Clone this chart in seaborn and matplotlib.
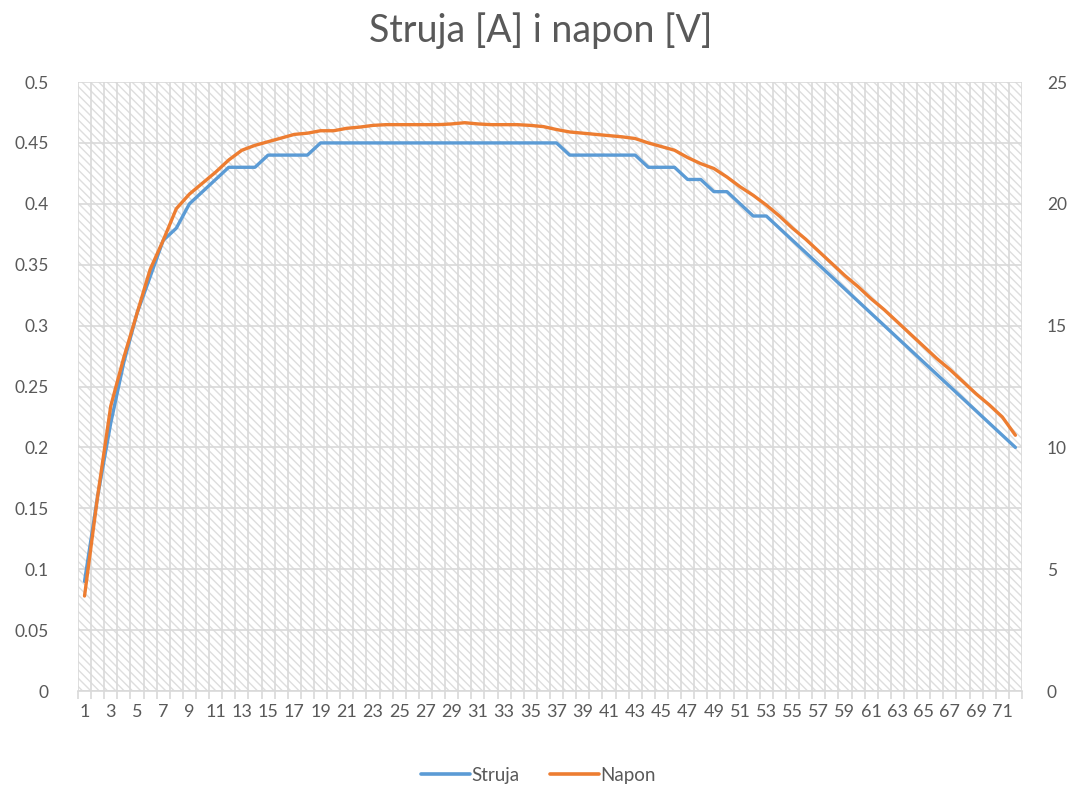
import numpy as np
import pandas as pd
import matplotlib
matplotlib.use("Agg")
import matplotlib.pyplot as plt
from matplotlib.patches import Rectangle
from matplotlib.lines import Line2D
import seaborn as sns

# measurement index (category axis)
mjerenje = list(range(1, 73))

# current [A] - left axis
struja = [0.09, 0.16, 0.22, 0.27, 0.31, 0.34, 0.37, 0.38, 0.40, 0.41,
          0.42, 0.43, 0.43, 0.43, 0.44, 0.44, 0.44, 0.44, 0.45, 0.45,
          0.45, 0.45, 0.45, 0.45, 0.45, 0.45, 0.45, 0.45, 0.45, 0.45,
          0.45, 0.45, 0.45, 0.45, 0.45, 0.45, 0.45, 0.44, 0.44, 0.44,
          0.44, 0.44, 0.44, 0.43, 0.43, 0.43, 0.42, 0.42, 0.41, 0.41,
          0.40, 0.39, 0.39, 0.38, 0.37, 0.36, 0.35, 0.34, 0.33, 0.32,
          0.31, 0.30, 0.29, 0.28, 0.27, 0.26, 0.25, 0.24, 0.23, 0.22,
          0.21, 0.20]

# voltage [V] - right axis
napon = [3.9, 8.0, 11.7, 13.7, 15.5, 17.3, 18.5, 19.8, 20.4, 20.85,
         21.3, 21.8, 22.2, 22.4, 22.55, 22.7, 22.85, 22.9, 23.0, 23.0,
         23.1, 23.15, 23.22, 23.25, 23.25, 23.25, 23.25, 23.25, 23.28, 23.33,
         23.28, 23.25, 23.25, 23.25, 23.22, 23.17, 23.05, 22.95, 22.9, 22.85,
         22.8, 22.75, 22.68, 22.5, 22.35, 22.2, 21.9, 21.65, 21.45, 21.1,
         20.7, 20.35, 19.95, 19.5, 19.0, 18.55, 18.05, 17.55, 17.05, 16.6,
         16.1, 15.65, 15.15, 14.65, 14.15, 13.65, 13.2, 12.7, 12.2, 11.75,
         11.25, 10.5]

df = pd.DataFrame({"Mjerenje": mjerenje, "Struja": struja, "Napon": napon})

sns.set_theme(style="white")
plt.rcParams["font.family"] = ["Lato", "DejaVu Sans"]
plt.rcParams["hatch.linewidth"] = 1.0

text_col = "#595959"
grid_col = "#d9d9d9"
blue = "#5b9bd5"
orange = "#ed7d31"

fig = plt.figure(figsize=(10.77, 7.91), dpi=100)
ax = fig.add_axes([0.0724, 0.1264, 0.8765, 0.7699])

# hatched plot area background
ax.add_patch(Rectangle((0, 0), 1, 1, transform=ax.transAxes, facecolor="white",
                       edgecolor="#dedede", hatch="\\\\\\\\", linewidth=0, zorder=0))

sns.lineplot(data=df, x="Mjerenje", y="Struja", ax=ax, color=blue, linewidth=2.4, zorder=3)
ax2 = ax.twinx()
sns.lineplot(data=df, x="Mjerenje", y="Napon", ax=ax2, color=orange, linewidth=2.4, zorder=3)

ax.set_xlim(0.5, 72.5)
ax.set_ylim(0, 0.5)
ax2.set_ylim(0, 25)

# gridlines
for b in np.arange(0.5, 73, 1):
    ax.axvline(b, color=grid_col, linewidth=1.2, zorder=1)
for v in np.arange(0, 0.501, 0.05):
    ax.axhline(v, color=grid_col, linewidth=1.2, zorder=1)

ax.set_yticks(np.arange(0, 0.501, 0.05))
ax.set_yticklabels(["0", "0.05", "0.1", "0.15", "0.2", "0.25", "0.3", "0.35", "0.4", "0.45", "0.5"])
ax2.set_yticks(np.arange(0, 26, 5))
ax2.set_yticklabels([str(v) for v in range(0, 26, 5)])

ax.set_xticks(mjerenje[::2])
ax.set_xticklabels([str(m) for m in mjerenje[::2]])
ax.set_xticks(np.arange(0.5, 73, 1), minor=True)

ax.tick_params(axis="x", which="major", length=0, pad=9, labelsize=13, labelcolor=text_col)
ax.tick_params(axis="x", which="minor", length=6, width=1.2, color=grid_col, bottom=True)
ax.tick_params(axis="y", length=0, pad=21, labelsize=12.5, labelcolor=text_col)
ax2.tick_params(axis="y", length=0, pad=18, labelsize=12.5, labelcolor=text_col)

ax.set_xlabel("")
ax.set_ylabel("")
ax2.set_ylabel("")
for a in (ax, ax2):
    for s in a.spines.values():
        s.set_visible(False)
ax.spines["bottom"].set_visible(True)
ax.spines["bottom"].set_color(grid_col)
ax.spines["bottom"].set_linewidth(1.2)

fig.suptitle("Struja [A] i napon [V]", x=0.502, y=0.985, fontsize=27,
             color=text_col, fontweight="normal")

handles = [Line2D([0], [0], color=blue, linewidth=2.6),
           Line2D([0], [0], color=orange, linewidth=2.6)]
fig.legend(handles, ["Struja", "Napon"], loc="center", bbox_to_anchor=(0.5, 0.02),
           ncol=2, frameon=False, fontsize=13.5, labelcolor=text_col,
           handlelength=2.6, handletextpad=0.1, columnspacing=1.6)

fig.savefig("out.png", dpi=100)
